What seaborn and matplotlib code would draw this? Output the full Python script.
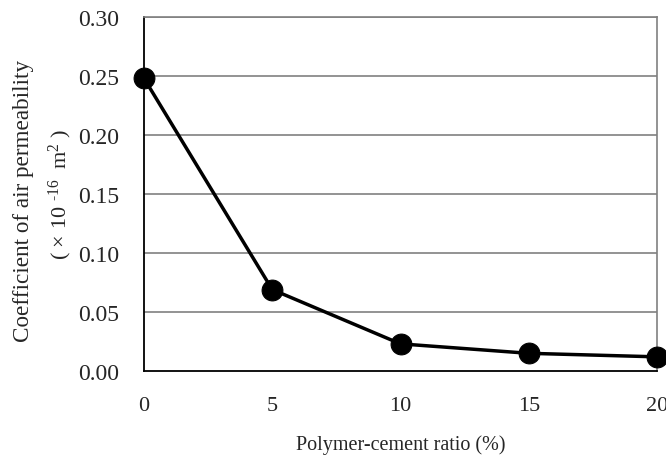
import matplotlib
matplotlib.use("Agg")
import matplotlib.pyplot as plt
import seaborn as sns
import pandas as pd

ratio = [0, 5, 10, 15, 20]
permeability = [0.248, 0.069, 0.023, 0.015, 0.012]
xticks = [0, 5, 10, 15, 20]
yticks = [0.00, 0.05, 0.10, 0.15, 0.20, 0.25, 0.30]

sns.set_style("white")
plt.rcParams['font.family'] = ['Liberation Serif', 'DejaVu Serif']
plt.rcParams['mathtext.fontset'] = 'custom'
plt.rcParams['mathtext.rm'] = 'Liberation Serif'
plt.rcParams['mathtext.it'] = 'Liberation Serif:italic'

df = pd.DataFrame({"ratio": ratio, "perm": permeability})

fig = plt.figure(figsize=(6.66, 4.6), dpi=100)
ax = fig.add_axes([144/666, 1-372/460, (657-144)/666, (372-18)/460])

for y in yticks[1:]:
    ax.axhline(y, color="#808080", lw=1.2, zorder=1)

sns.lineplot(data=df, x="ratio", y="perm", ax=ax, color="black", lw=2.5,
             marker="o", markersize=15, markeredgecolor="black",
             markerfacecolor="black", clip_on=False, zorder=5)

ax.set_xlim(0, 20)
ax.set_ylim(0, 0.30)
ax.set_xticks(xticks)
ax.set_xticklabels([str(v) for v in xticks], fontsize=16)
ax.set_yticks(yticks)
ax.set_yticklabels([f"{v:.2f}" for v in yticks], fontsize=17)
ax.tick_params(axis="x", direction="in", length=8, width=1, color="black", pad=18)
ax.tick_params(axis="y", length=0, pad=18)
ax.set_xlabel("Polymer-cement ratio (%)", fontsize=14.5, labelpad=14)
ax.set_ylabel("")

for side in ["left", "bottom"]:
    ax.spines[side].set_color("black")
    ax.spines[side].set_linewidth(1.3)
for side in ["top", "right"]:
    ax.spines[side].set_color("#808080")
    ax.spines[side].set_linewidth(1.2)

fig.text(24/666, 1-201/460, "Coefficient of air permeability", rotation=90,
         ha="center", va="center", fontsize=16.7)
fig.text(60/666, 1-194/460, "( \u00d7 10 $^{\u2010 16}$  m$^{2}$ )", rotation=90,
         ha="center", va="center", fontsize=16)

fig.savefig("out.png", dpi=100)
